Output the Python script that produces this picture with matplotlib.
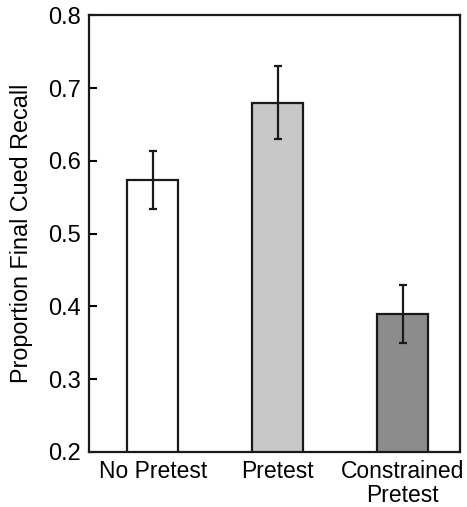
import matplotlib
matplotlib.use("Agg")
import matplotlib.pyplot as plt

categories = ["No Pretest", "Pretest", "Constrained\nPretest"]
values = [0.574, 0.680, 0.390]
errors = [0.040, 0.050, 0.040]
colors = ["#ffffff", "#c8c8c8", "#8c8c8c"]
yticks = [0.2, 0.3, 0.4, 0.5, 0.6, 0.7, 0.8]

plt.rcParams['font.family'] = ['Liberation Sans', 'DejaVu Sans']

fig = plt.figure(figsize=(4.67, 5.07), dpi=100)
ax = fig.add_axes([0.1906, 0.1085, 0.7944, 0.8615])

x = list(range(len(categories)))
ax.bar(x, values, width=0.41, color=colors, edgecolor="#1a1a1a", linewidth=1.6, zorder=2)
ax.errorbar(x, values, yerr=errors, fmt="none", ecolor="#1a1a1a", elinewidth=1.6,
            capsize=3, capthick=1.6, zorder=3)

ax.set_ylim(0.2, 0.8)
ax.set_xlim(-0.51, 2.46)
ax.set_yticks(yticks)
ax.set_yticklabels([f"{t:.1f}" for t in yticks], fontsize=17)
ax.set_xticks(x)
ax.set_xticklabels(categories, fontsize=16.5, linespacing=1.03)
ax.tick_params(axis="y", direction="in", length=6, width=1.5, pad=6)
ax.tick_params(axis="x", length=0, pad=6)
ax.set_ylabel("Proportion Final Cued Recall", fontsize=16.8, labelpad=11)
for s in ax.spines.values():
    s.set_linewidth(1.6)
    s.set_color("#1a1a1a")

fig.savefig("out.png", dpi=100)
